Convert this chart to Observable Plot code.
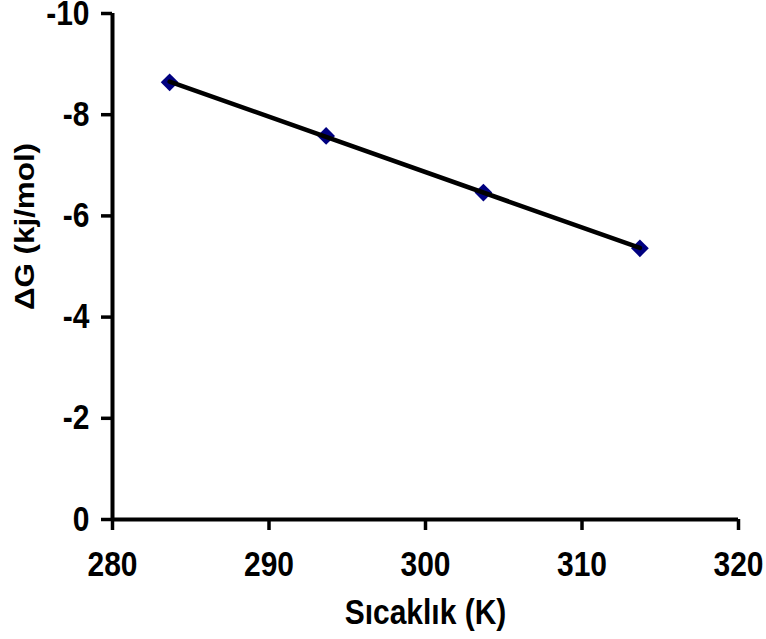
<!DOCTYPE html>
<html>
<head>
<meta charset="utf-8">
<script src="https://cdn.jsdelivr.net/npm/d3@7"></script>
<script src="https://cdn.jsdelivr.net/npm/@observablehq/plot@0.6"></script>
<style>
  html, body { margin: 0; padding: 0; background: #fff; }
  #chart svg { display: block; }
</style>
</head>
<body>
<div id="chart"></div>
<script>
const temperatures = [283.65, 293.65, 303.7, 313.7];
const deltaG = [-8.64, -7.58, -6.46, -5.36];
const xTicks = [280, 290, 300, 310, 320];
const yTicks = [0, -2, -4, -6, -8, -10];
const xLabel = "Sıcaklık (K)";
const yLabel = "ΔG (kj/mol)";

const data = temperatures.map((t, i) => ({t, g: deltaG[i]}));
const font = "'Liberation Sans', Arial, sans-serif";

const chart = Plot.plot({
  width: 766,
  height: 639,
  marginLeft: 112,
  marginRight: 28,
  marginTop: 13,
  marginBottom: 120,
  style: {fontFamily: font, fontWeight: "bold", fontSize: "30px", background: "#fff", color: "#000"},
  x: {domain: [280, 320]},
  y: {domain: [0, -10]},
  marks: [
    Plot.axisX({ticks: xTicks, tickSize: 11, tickPadding: 21, strokeWidth: 3.5, fontSize: 30, fontWeight: "bold", label: null, tickFormat: d => String(d), className: "tickx"}),
    Plot.axisY({ticks: yTicks, tickSize: 11, tickPadding: 12, strokeWidth: 3.5, fontSize: 30, fontWeight: "bold", label: null, tickFormat: d => String(d)}),
    Plot.ruleY([0], {strokeWidth: 4, stroke: "#000"}),
    Plot.ruleX([280], {strokeWidth: 4, stroke: "#000"}),
    Plot.dot(data, {x: "t", y: "g", symbol: "diamond2", r: 8, fill: "#000080", stroke: "none"}),
    Plot.linearRegressionY(data, {x: "t", y: "g", stroke: "#000", strokeWidth: 4.5, ci: 0}),
    Plot.text([xLabel], {frameAnchor: "bottom", textAnchor: "middle", lineAnchor: "middle", dy: 93, fontSize: 30, fontWeight: "bold", fill: "#000"}),
    Plot.text([yLabel], {frameAnchor: "left", textAnchor: "middle", lineAnchor: "middle", dx: -87, dy: -40, rotate: -90, fontSize: 28, fontWeight: "bold", fill: "#000"})
  ]
});
// The reference's lettering is slightly taller than wide: stretch it vertically a little.
d3.select(chart).selectAll("text").each(function() {
  const t = this.getAttribute("transform") || "";
  const rotated = /rotate/.test(t);
  this.setAttribute("transform", t + (rotated ? " scale(1.12,1)" : " scale(1,1.15)"));
});
document.getElementById("chart").appendChild(chart);
</script>
</body>
</html>
